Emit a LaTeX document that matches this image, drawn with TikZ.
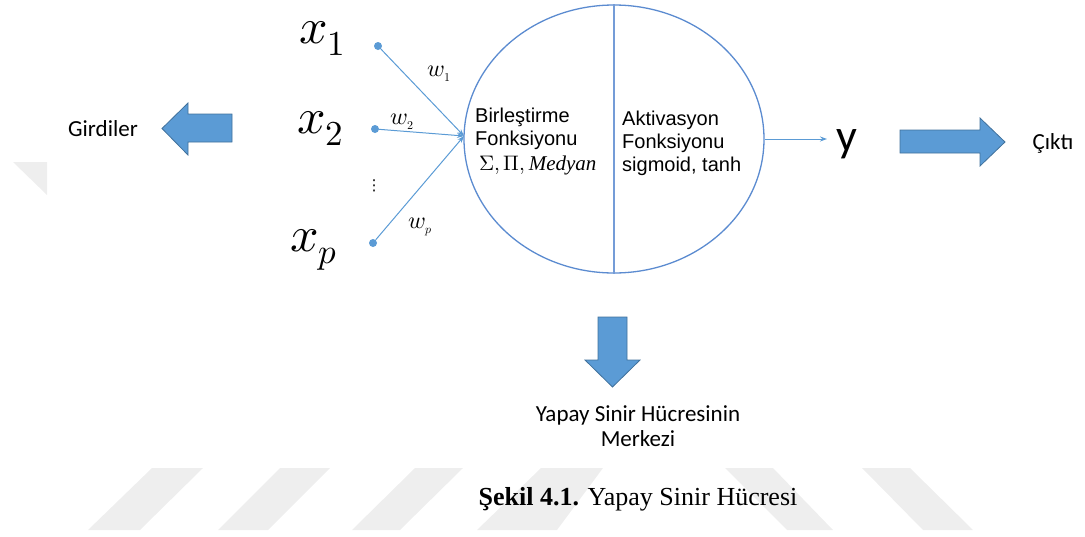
\documentclass[tikz,border=0pt]{standalone}
\usepackage{fontspec}
\usepackage{unicode-math}
\setmainfont{Liberation Serif}
\setmathfont{latinmodern-math.otf}
\newfontfamily\arialfont{Liberation Sans}
\newfontfamily\calfont{Carlito}
\newfontfamily\symfont{DejaVu Sans}
\usetikzlibrary{arrows.meta,shapes.geometric}

\definecolor{lineblue}{HTML}{5B9BD5}
\definecolor{ringblue}{HTML}{5B8BD0}
\definecolor{fillblue}{HTML}{5B9BD5}
\definecolor{edgeblue}{HTML}{41719C}
\definecolor{wmgray}{gray}{0.935}

\tikzset{
  wire/.style={draw=lineblue, line width=1pt, -{Stealth[length=7pt,width=5pt]}},
  dot/.style={circle, fill=lineblue, inner sep=0pt, minimum size=8pt},
  bigmath/.style={inner sep=0pt, anchor=base west, font=\fontsize{50}{54}\selectfont},
  weight/.style={inner sep=0pt, anchor=base west, font=\fontsize{24}{28}\selectfont},
  celltext/.style={inner sep=0pt, anchor=base west, font=\arialfont\fontsize{20}{23.5}\selectfont},
  label/.style={inner sep=0pt, font=\calfont\fontsize{23}{26}\selectfont},
  blockarrow/.style={fill=fillblue, draw=edgeblue, line width=0.8pt, line join=miter},
  watermark/.style={fill=wmgray, draw=none},
}

\begin{document}
\begin{tikzpicture}[x=1pt, y=-1pt]
\useasboundingbox (0,0) rectangle (1085,536);

% faint background stripes
\fill[watermark] (13,162) -- (47,162) -- (47,195) -- cycle;
\fill[watermark] (152,468) -- (203,468) -- (140,530) -- (88,530) -- cycle;
\fill[watermark] (280,468) -- (330,468) -- (268,530) -- (218,530) -- cycle;
\fill[watermark] (415,468) -- (463,468) -- (400,530) -- (352,530) -- cycle;
\fill[watermark] (541,468) -- (603,468) -- (557,530) -- (477,530) -- cycle;
\fill[watermark] (725,468) -- (773,468) -- (833,530) -- (787,530) -- cycle;
\fill[watermark] (862,468) -- (910,468) -- (973,530) -- (923,530) -- cycle;

% neuron body
\node[ellipse, draw=ringblue, line width=1.3pt, inner sep=0pt,
      minimum width=300pt, minimum height=268pt] (cell) at (614,139) {};
\draw[draw=ringblue!85, line width=1.2pt] (cell.north) -- (cell.south);

% inputs
\node[dot] (d1) at (378,46) {};
\node[dot] (d2) at (375,129) {};
\node[dot] (dp) at (373,243) {};
\coordinate (hub) at (464,136);
\draw[wire] (d1) -- (hub);
\draw[wire] (d2) -- (hub);
\draw[wire] (dp) -- (hub);

\node[bigmath] (x1) at (299,43) {$x_1$};
\node[bigmath] (x2) at (297,133) {$x_2$};
\node[bigmath] (xp) at (290,251) {$x_p$};
\node[inner sep=0pt, font=\symfont\fontsize{15}{16}\selectfont] (vd) at (374,186) {⋮};

\node[weight] (w1) at (427,76) {$w_{\scriptscriptstyle 1}$};
\node[weight] (w2) at (390,124) {$w_{\scriptscriptstyle 2}$};
\node[weight] (wp) at (408,228) {$w_{\scriptscriptstyle p}$};

% text inside the cell
\node[celltext] (c1) at (475,122) {Birleştirme};
\node[celltext] (c2) at (475,145) {Fonksiyonu};
\node[inner sep=0pt, anchor=base west, font=\fontsize{21}{24}\selectfont] (c3) at (479,170) {$\Sigma,\Pi,\mathit{Medyan}$};
\node[celltext] (a1) at (622,125) {Aktivasyon};
\node[celltext] (a2) at (622,148) {Fonksiyonu};
\node[celltext] (a3) at (622,171) {sigmoid, tanh};

% output
\node[inner sep=0pt, anchor=base west, font=\calfont\fontsize{46}{50}\selectfont] (yout) at (836,151) {y};
\draw[wire] (cell.east) -- ([xshift=-9pt]cell.east -| yout.west);

% block arrows
\draw[blockarrow] (232,114) -- (188,114) -- (188,103) -- (162,128.5) -- (188,155) -- (188,142) -- (232,142) -- cycle;
\draw[blockarrow] (900,130) -- (980,130) -- (980,118) -- (1005,142) -- (980,166) -- (980,153) -- (900,153) -- cycle;
\draw[blockarrow] (598,317) -- (627,317) -- (627,360) -- (640,360) -- (612.5,387) -- (585,360) -- (598,360) -- cycle;

\node[label] (gir) at (103,129) {Girdiler};
\node[label] (cik) at (1053,143) {Çıktı};
\node[label, align=center, font=\calfont\fontsize{23}{25}\selectfont, anchor=north] (merk) at (638,405) {Yapay Sinir Hücresinin\\Merkezi};

% caption
\node[inner sep=0pt, anchor=base, font=\fontsize{26}{30}\selectfont] (cap) at (638,505) {\textbf{Şekil 4.1.} Yapay Sinir Hücresi};
\end{tikzpicture}
\end{document}
